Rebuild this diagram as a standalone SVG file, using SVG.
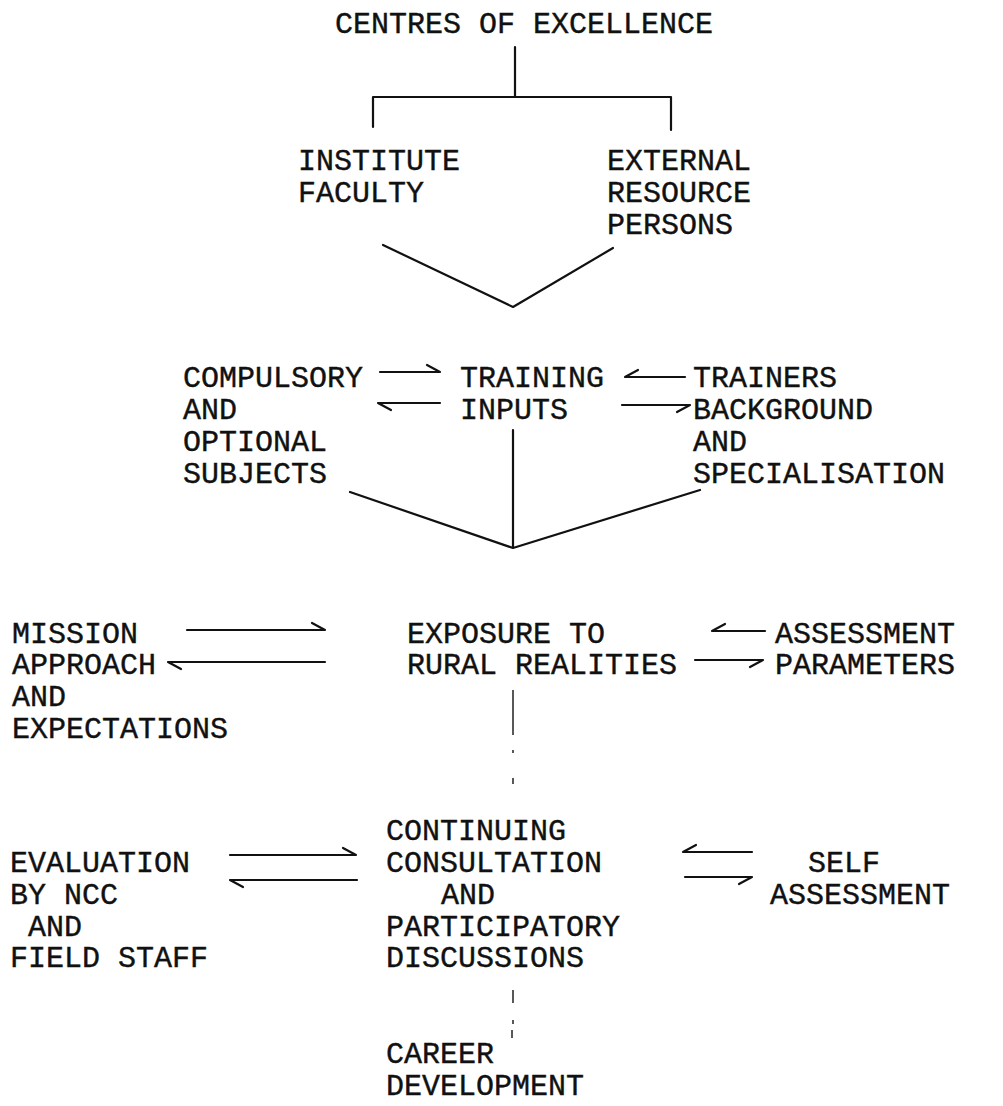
<svg xmlns="http://www.w3.org/2000/svg" width="1003" height="1106" viewBox="0 0 1003 1106">
<style>
text{font-family:"Courier New","Liberation Mono","DejaVu Sans Mono",monospace;font-size:30px;fill:#111;stroke:#111;stroke-width:0.4;}
.ln{stroke:#111;stroke-width:2.2;fill:none;stroke-linecap:round;stroke-linejoin:round;}
.dl{stroke:#222;stroke-width:1.5;fill:none;}
</style>
<rect width="1003" height="1106" fill="#fff"/>
<g id="connectors">
<path class="ln" d="M515,47 V97 M373,127 V97 H671 V130"/>
<path class="ln" d="M383,245 L513,307 L613,248"/>
<path class="ln" d="M513,430 V548 M350,492 L513,548 L700,490"/>
<path class="ln" d="M380,372 H440 L427,365"/>
<path class="ln" d="M440,403 H378 L391,410"/>
<path class="ln" d="M685,377 H625 L638,370"/>
<path class="ln" d="M622,405 H690 L677,412"/>
<path class="ln" d="M187,630 H325 L312,623"/>
<path class="ln" d="M325,662 H168 L181,669"/>
<path class="ln" d="M765,631 H712 L725,624"/>
<path class="ln" d="M695,660 H763 L750,667"/>
<path class="ln" d="M230,855 H356 L343,848"/>
<path class="ln" d="M357,880 H230 L243,887"/>
<path class="ln" d="M752,852 H683 L696,845"/>
<path class="ln" d="M685,877 H752 L739,884"/>
<path class="dl" d="M513,690 V735 M513,750 V753 M513,778 V784 M513,990 V1003 M513,1020 V1024 M512,1030 V1038"/>
</g>
<g id="n-centres"><text x="335" y="33">CENTRES OF EXCELLENCE</text></g>
<g id="n-institute"><text x="298" y="170">INSTITUTE</text><text x="298" y="202">FACULTY</text></g>
<g id="n-external"><text x="607" y="170">EXTERNAL</text><text x="607" y="202">RESOURCE</text><text x="607" y="234">PERSONS</text></g>
<g id="n-compulsory"><text x="183" y="387">COMPULSORY</text><text x="183" y="419">AND</text><text x="183" y="451">OPTIONAL</text><text x="183" y="483">SUBJECTS</text></g>
<g id="n-training"><text x="460" y="387">TRAINING</text><text x="460" y="419">INPUTS</text></g>
<g id="n-trainers"><text x="693" y="387">TRAINERS</text><text x="693" y="419">BACKGROUND</text><text x="693" y="451">AND</text><text x="693" y="483">SPECIALISATION</text></g>
<g id="n-mission"><text x="12" y="643">MISSION</text><text x="12" y="674">APPROACH</text><text x="12" y="706">AND</text><text x="12" y="738">EXPECTATIONS</text></g>
<g id="n-exposure"><text x="407" y="643">EXPOSURE TO</text><text x="407" y="674">RURAL REALITIES</text></g>
<g id="n-assessment"><text x="775" y="643">ASSESSMENT</text><text x="775" y="674">PARAMETERS</text></g>
<g id="n-evaluation"><text x="10" y="872">EVALUATION</text><text x="10" y="904">BY NCC</text><text x="28" y="936">AND</text><text x="10" y="967">FIELD STAFF</text></g>
<g id="n-consultation"><text x="386" y="840">CONTINUING</text><text x="386" y="872">CONSULTATION</text><text x="441" y="904">AND</text><text x="386" y="936">PARTICIPATORY</text><text x="386" y="967">DISCUSSIONS</text></g>
<g id="n-self"><text x="808" y="872">SELF</text><text x="770" y="904">ASSESSMENT</text></g>
<g id="n-career"><text x="386" y="1063">CAREER</text><text x="386" y="1095">DEVELOPMENT</text></g>
</svg>
